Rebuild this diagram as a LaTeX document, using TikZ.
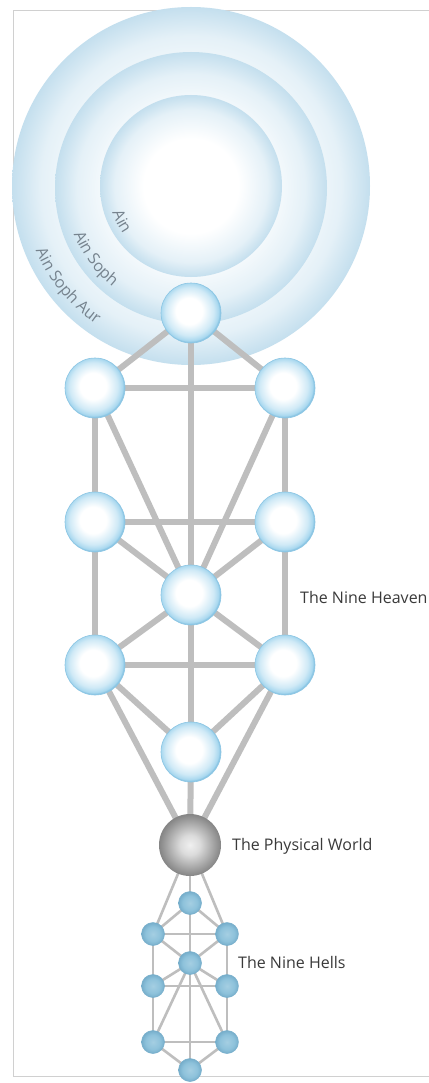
\documentclass[tikz,border=0pt]{standalone}
\usepackage{fontspec}
\setmainfont{Open Sans}
\usetikzlibrary{decorations.text}
\definecolor{edgegray}{HTML}{BEBEBE}
\definecolor{skyA}{HTML}{C4DFEE}
\definecolor{nodeblue}{HTML}{A9D8EF}
\definecolor{noderim}{HTML}{8CC6E4}
\definecolor{hellfill}{HTML}{8EC2DB}
\definecolor{hellrim}{HTML}{76AECB}
\definecolor{labelgray}{HTML}{3A3A3A}
\definecolor{arcgray}{HTML}{76838E}
\definecolor{framegray}{HTML}{D0D0D0}
\pgfdeclareradialshading{bigsphere}{\pgfpoint{0bp}{0bp}}{color(0bp)=(white); color(13bp)=(white); color(21bp)=(skyA!45!white); color(25bp)=(skyA); color(50bp)=(skyA)}
\pgfdeclareradialshading{heavenball}{\pgfpoint{-2bp}{2bp}}{color(0bp)=(white); color(11bp)=(white); color(20bp)=(nodeblue!55!white); color(24bp)=(nodeblue); color(25bp)=(noderim); color(50bp)=(noderim)}
\pgfdeclareradialshading{worldball}{\pgfpoint{0bp}{0bp}}{color(0bp)=(white!94!black); color(8bp)=(white!86!black); color(25bp)=(black!48); color(50bp)=(black!48)}
\pgfdeclareradialshading{hellball}{\pgfpoint{0bp}{0bp}}{color(0bp)=(hellfill!80!white); color(16bp)=(hellfill); color(25bp)=(hellrim); color(50bp)=(hellrim)}
\pgfdeclarelayer{bg}
\pgfdeclarelayer{edges}
\pgfsetlayers{bg,edges,main}
\begin{document}
\begin{tikzpicture}[x=1pt,y=1pt,
  realm/.style={circle, inner sep=0pt, shading=bigsphere},
  heaven/.style={circle, inner sep=0pt, minimum size=60pt, shading=heavenball, draw=noderim, line width=0.6pt},
  world/.style={circle, inner sep=0pt, minimum size=62pt, shading=worldball},
  hell/.style={circle, inner sep=0pt, minimum size=23pt, shading=hellball, draw=hellrim, line width=0.5pt},
  heavenedge/.style={draw=edgegray, line width=6pt},
  helledge/.style={draw=edgegray, line width=2.6pt},
  label/.style={anchor=west, inner sep=0pt, text=labelgray, font=\fontsize{16}{19}\selectfont},
  arctext/.style={decorate, decoration={text along path, text align=center, text={#1}}}
]
\useasboundingbox (0,-1083) rectangle (428,0);
\begin{pgfonlayer}{bg}
\fill[white] (0,-1083) rectangle (428,0);
\draw[framegray, line width=0.8pt] (440,-10) -- (13,-10) -- (13,-1076) -- (440,-1076);
\node[realm, minimum size=358pt] (aur) at (191,-186) {};
\node[realm, minimum size=272pt] (soph) at (191,-188) {};
\node[realm, minimum size=182pt] (ain) at (191,-186) {};
\end{pgfonlayer}
% arc labels
\path[arctext={|\fontsize{16}{18}\selectfont\color{arcgray}|Ain}] (ain.center) ++(185:83) arc[start angle=185, end angle=229, radius=83];
\path[arctext={|\fontsize{16}{18}\selectfont\color{arcgray}|Ain Soph}] (soph.center) ++(190:126) arc[start angle=190, end angle=243, radius=126];
\path[arctext={|\fontsize{16}{18}\selectfont\color{arcgray}|Ain Soph Aur}] (aur.center) ++(194:168) arc[start angle=194, end angle=244, radius=168];
% heavens
\node[heaven] (K)  at (191,-313) {};
\node[heaven] (L2) at (95,-388) {};
\node[heaven] (R2) at (285,-388) {};
\node[heaven] (L3) at (95,-522) {};
\node[heaven] (R3) at (285,-522) {};
\node[heaven] (M)  at (191,-595) {};
\node[heaven] (L4) at (95,-665) {};
\node[heaven] (R4) at (285,-665) {};
\node[heaven] (Y)  at (191,-752) {};
\node[world]  (W)  at (190,-845) {};
% hells
\node[hell] (h9) at (190,-903) {};
\node[hell] (h7) at (153,-934) {};
\node[hell] (h8) at (227,-934) {};
\node[hell] (h6) at (190,-963) {};
\node[hell] (h4) at (153,-986) {};
\node[hell] (h5) at (227,-986) {};
\node[hell] (h2) at (153,-1042) {};
\node[hell] (h3) at (227,-1042) {};
\node[hell] (h1) at (190,-1070) {};
\begin{pgfonlayer}{edges}
\foreach \a/\b in {K/L2,K/R2,K/M,L2/R2,L2/L3,R2/R3,L2/M,R2/M,L3/R3,L3/M,R3/M,L3/L4,R3/R4,M/L4,M/R4,M/Y,L4/R4,L4/Y,R4/Y,L4/W,R4/W,Y/W}
  \draw[heavenedge] (\a.center) -- (\b.center);
\foreach \a/\b in {h1/h2,h1/h3,h1/h6,h2/h3,h2/h4,h3/h5,h2/h6,h3/h6,h4/h5,h4/h6,h5/h6,h4/h7,h5/h8,h6/h7,h6/h8,h6/h9,h7/h8,h7/h9,h8/h9,h7/W,h8/W,h9/W}
  \draw[helledge] (\a.center) -- (\b.center);
\end{pgfonlayer}
% labels
\node[label] (heavenlabel) at (300,-597) {The Nine Heaven};
\node[label] (worldlabel) at (232,-846) {The Physical World};
\node[label] (helllabel) at (238,-962) {The Nine Hells};
\end{tikzpicture}
\end{document}
